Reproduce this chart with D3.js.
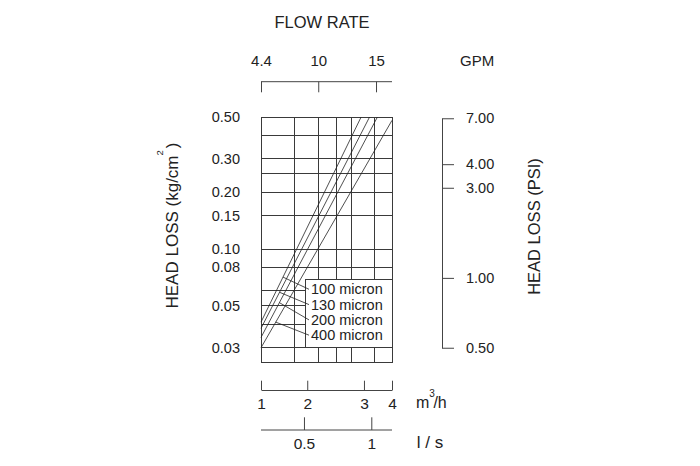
<!DOCTYPE html>
<html>
<head>
<meta charset="utf-8">
<script src="https://cdn.jsdelivr.net/npm/d3@7"></script>
<style>
body { margin: 0; background: #fff; }
svg { display: block; font-family: "Liberation Sans", Arial, sans-serif; }
</style>
</head>
<body>
<div id="chart"></div>
<script>
// flow axes (the printed scales are not uniform, so each one keeps its own tick spacing)
const flowTicks = [1, 2, 3, 4];               // m3/h
const flowTickPos = [0, 0.353, 0.786, 1];
const gpmTicks = [4.4, 10, 15];
const gpmTickPos = [0, 0.437, 0.878];
const lpsTicks = [0.5, 1];
const lpsTickPos = [0.328, 0.842];

// head loss axes
const lossTicks = [0.5, 0.3, 0.2, 0.15, 0.1, 0.08, 0.05, 0.03];   // kg/cm2
const psiTicks = [7, 4, 3, 1, 0.5];
const KG_TO_PSI = 14.22;

// grid
const gridFlow = [1, 1.73, 2.19, 2.51, 2.78, 3.37, 4];
const gridLoss = [0.5, 0.4, 0.3, 0.25, 0.2, 0.15, 0.1, 0.08, 0.06, 0.05, 0.04, 0.03, 0.025];

// screen lines
const micron = ["100 micron", "130 micron", "200 micron", "400 micron"];
const flowFrom = [1, 1, 1, 1];
const lossFrom = [0.041, 0.038, 0.034, 0.030];
const flowTo = [2.95, 3.20, 3.48, 4];
const lossTo = [0.5, 0.5, 0.5, 0.48];
const leaderLoss = [0.071, 0.059, 0.052, 0.041];

const ink = "#222";
const gridColor = "#3a3a3a";

var svg = d3.select('#chart')
    .append('svg')
    .attr('width', 700)
    .attr('height', 466);

const plotLeft = 261, plotTop = 117;
const W = 131, H = 245.7;

const g = svg.append('g').attr('transform', `translate(${plotLeft},${plotTop})`);

const x = d3.scaleLinear().domain(flowTicks).range(flowTickPos.map(p => p * W));
const y = d3.scaleLog().domain([0.025, 0.5]).range([H, 0]);
const gpm = d3.scaleLinear().domain(gpmTicks).range(gpmTickPos.map(p => p * W));
const lps = d3.scaleLinear().domain(lpsTicks).range(lpsTickPos.map(p => p * W));
// psi side: converted from kg/cm2, bottom tick sits on the 0.03 line as printed
const psi = d3.scaleLog()
    .domain([0.5, 1, 7])
    .range([y(0.03), y(1 / KG_TO_PSI), y(7 / KG_TO_PSI)]);

// grid
const grid = g.append('g').attr('shape-rendering', 'crispEdges');
grid.selectAll('line.h')
    .data(gridLoss)
    .join('line')
    .attr('class', 'h')
    .attr('x1', 0).attr('x2', W)
    .attr('y1', d => y(d)).attr('y2', d => y(d))
    .attr('stroke', gridColor);
grid.selectAll('line.v')
    .data(gridFlow)
    .join('line')
    .attr('class', 'v')
    .attr('x1', d => x(d)).attr('x2', d => x(d))
    .attr('y1', 0).attr('y2', H)
    .attr('stroke', gridColor);

// screen lines
const series = micron.map((name, i) => ({
    name: name,
    pts: [[flowFrom[i], lossFrom[i]], [flowTo[i], lossTo[i]]],
    leader: leaderLoss[i]
}));

const line = d3.line().x(d => x(d[0])).y(d => y(d[1]));

g.append('g')
    .selectAll('path')
    .data(series)
    .join('path')
    .attr('d', d => line(d.pts))
    .attr('fill', 'none')
    .attr('stroke', ink)
    .attr('stroke-width', 0.8);

// legend box
const boxLeft = 44, boxTop = 162, rowH = 15.3;
g.append('rect')
    .attr('x', boxLeft)
    .attr('y', boxTop)
    .attr('width', W - boxLeft)
    .attr('height', y(0.03) - boxTop)
    .attr('fill', '#fff')
    .attr('stroke', gridColor)
    .attr('shape-rendering', 'crispEdges');

function xOnLine(d, v) {
    const x0 = x(d.pts[0][0]), y0 = y(d.pts[0][1]);
    const x1 = x(d.pts[1][0]), y1 = y(d.pts[1][1]);
    const t = (y(v) - y0) / (y1 - y0);
    return x0 + t * (x1 - x0);
}

g.append('g')
    .selectAll('line')
    .data(series)
    .join('line')
    .attr('x1', boxLeft + 4)
    .attr('y1', (d, i) => boxTop + rowH * (i + 1) - 5)
    .attr('x2', d => xOnLine(d, d.leader))
    .attr('y2', d => y(d.leader))
    .attr('stroke', ink)
    .attr('stroke-width', 0.8);

g.append('g')
    .selectAll('text')
    .data(series)
    .join('text')
    .attr('x', boxLeft + 6)
    .attr('y', (d, i) => boxTop + rowH * (i + 1))
    .attr('font-size', 14.5)
    .attr('fill', ink)
    .text(d => d.name);

function styleAxis(sel, size) {
    sel.attr('font-family', null).attr('font-size', size);
    sel.selectAll('text').attr('fill', ink);
    sel.selectAll('line, path').attr('stroke', '#444');
}

// left axis (kg/cm2)
const yAxis = g.append('g')
    .call(d3.axisLeft(y)
        .tickValues(lossTicks)
        .tickFormat(d3.format('.2f'))
        .tickSize(0)
        .tickPadding(21));
yAxis.select('.domain').remove();
styleAxis(yAxis, 14.5);

// right axis (psi)
const psiAxis = g.append('g')
    .attr('transform', `translate(${W + 50},0)`)
    .call(d3.axisRight(psi)
        .tickValues(psiTicks)
        .tickFormat(d3.format('.2f'))
        .tickSize(12)
        .tickSizeOuter(0)
        .tickPadding(12));
styleAxis(psiAxis, 14.5);

// top axis (GPM)
const gpmAxis = g.append('g')
    .attr('transform', 'translate(0,-35.3)')
    .call(d3.axisTop(gpm)
        .tickValues(gpmTicks)
        .tickFormat(d => d)
        .tickSize(-10.6)
        .tickPadding(15.7));
gpmAxis.select('.domain').remove();
gpmAxis.append('line').attr('x1', 0).attr('x2', W);
styleAxis(gpmAxis, 15);

// bottom axis (m3/h)
const flowAxis = g.append('g')
    .attr('transform', `translate(0,${390 - plotTop})`)
    .call(d3.axisBottom(x)
        .tickValues(flowTicks)
        .tickFormat(d3.format('d'))
        .tickSize(-9.3)
        .tickSizeOuter(0)
        .tickPadding(8));
styleAxis(flowAxis, 15.5);

// bottom axis (l/s)
const lpsAxis = g.append('g')
    .attr('transform', `translate(0,${430 - plotTop})`)
    .call(d3.axisBottom(lps)
        .tickValues(lpsTicks)
        .tickFormat(d => d)
        .tickSize(-12.7)
        .tickPadding(8));
lpsAxis.select('.domain').remove();
lpsAxis.append('line').attr('x1', 0).attr('x2', W);
styleAxis(lpsAxis, 15.5);

// titles and units
svg.append('text')
    .attr('x', 322).attr('y', 28.3)
    .attr('text-anchor', 'middle')
    .attr('font-size', 16.5)
    .attr('fill', ink)
    .text('FLOW RATE');

svg.append('text')
    .attr('x', 460).attr('y', 66)
    .attr('font-size', 15)
    .attr('fill', ink)
    .text('GPM');

const m3 = svg.append('text')
    .attr('x', 416).attr('y', 408.3)
    .attr('font-size', 16)
    .attr('fill', ink);
m3.append('tspan').text('m');
m3.append('tspan').attr('font-size', 10).attr('dy', -11.6).text('3');
m3.append('tspan').attr('dy', 11.6).attr('dx', -1.5).text('/h');

svg.append('text')
    .attr('x', 416.7).attr('y', 448.3)
    .attr('font-size', 17)
    .attr('fill', ink)
    .text('l / s');

const yTitle = svg.append('text')
    .attr('transform', 'translate(177.7,225.5) rotate(-90)')
    .attr('text-anchor', 'middle')
    .attr('font-size', 17)
    .attr('fill', ink);
yTitle.append('tspan').text('HEAD LOSS (kg/cm');
yTitle.append('tspan').attr('font-size', 9.5).attr('dy', -14.4).text('2');
yTitle.append('tspan').attr('dy', 14.4).attr('dx', 2).text(')');

svg.append('text')
    .attr('transform', 'translate(540,226.5) rotate(-90)')
    .attr('text-anchor', 'middle')
    .attr('font-size', 16.5)
    .attr('fill', ink)
    .text('HEAD LOSS (PSI)');
</script>
</body>
</html>
